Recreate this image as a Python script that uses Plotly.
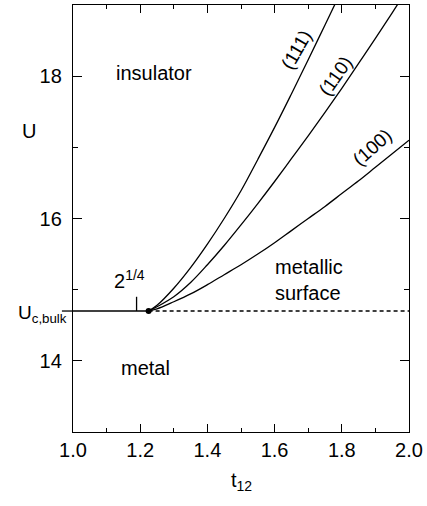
import plotly.graph_objects as go

# Bulk critical interaction and the point where the surface transition branches off
U_C_BULK = 14.7
T_SPLIT = 1.225
T_ROOT = 2 ** 0.25
T_MIN, T_MAX = 1.0, 2.0
U_MIN, U_MAX = 13.0, 19.0

# Surface critical U_c,s(t12) for the three surface orientations
t_111 = [1.225, 1.25, 1.30, 1.35, 1.40, 1.45, 1.50, 1.55, 1.60, 1.65, 1.70, 1.75, 1.80]
u_111 = [14.70, 14.78, 15.02, 15.31, 15.64, 16.00, 16.39, 16.83, 17.28, 17.75, 18.23, 18.72, 19.21]

t_110 = [1.225, 1.25, 1.30, 1.35, 1.40, 1.45, 1.50, 1.55, 1.60, 1.65, 1.70, 1.75, 1.80,
         1.85, 1.90, 1.95, 2.00]
u_110 = [14.70, 14.76, 14.90, 15.10, 15.35, 15.62, 15.91, 16.21, 16.52, 16.84, 17.16, 17.49,
         17.83, 18.18, 18.53, 18.89, 19.26]

t_100 = [1.225, 1.25, 1.30, 1.35, 1.40, 1.45, 1.50, 1.55, 1.60, 1.65, 1.70, 1.75, 1.80,
         1.85, 1.90, 1.95, 2.00]
u_100 = [14.70, 14.73, 14.83, 14.94, 15.07, 15.21, 15.35, 15.50, 15.66, 15.83, 16.00, 16.17,
         16.35, 16.53, 16.72, 16.91, 17.10]

# Curve labels: text, position, rotation
curve_labels = ["(111)", "(110)", "(100)"]
curve_label_t = [1.666, 1.780, 1.890]
curve_label_u = [18.37, 18.00, 17.00]
curve_label_angle = [-60, -55, -42]

x_ticks = [1.0, 1.2, 1.4, 1.6, 1.8, 2.0]
x_ticklabels = ["1.0", "1.2", "1.4", "1.6", "1.8", "2.0"]
y_ticks = [14, 16, 18]
y_ticklabels = ["14", "16", "18"]

FONT = "Liberation Sans, Arial, Helvetica, sans-serif"
LINE = dict(color="black", width=1.3)

fig = go.Figure()

for t, u in [(t_111, u_111), (t_110, u_110), (t_100, u_100)]:
    fig.add_trace(go.Scatter(x=t, y=u, mode="lines", line=dict(color="black", width=1.3, shape="spline"),
                             hoverinfo="skip"))

# bulk transition: solid up to the branching point, dashed beyond it
fig.add_trace(go.Scatter(x=[T_MIN, T_SPLIT], y=[U_C_BULK, U_C_BULK], mode="lines", line=LINE))
fig.add_trace(go.Scatter(x=[T_SPLIT, T_MAX], y=[U_C_BULK, U_C_BULK], mode="lines",
                         line=dict(color="black", width=1.3, dash="4px,3px")))
# small marker at t12 = 2^(1/4)
fig.add_trace(go.Scatter(x=[T_ROOT, T_ROOT], y=[U_C_BULK, U_C_BULK + 0.2], mode="lines", line=LINE))
# branching point
fig.add_trace(go.Scatter(x=[T_SPLIT], y=[U_C_BULK], mode="markers",
                         marker=dict(color="black", size=6)))

# the bulk line pokes out slightly left of the frame
fig.add_shape(type="line", xref="paper", yref="y", x0=-0.033, x1=0, y0=U_C_BULK, y1=U_C_BULK,
              line=LINE)

ann = []
for txt, t, u, a in zip(curve_labels, curve_label_t, curve_label_u, curve_label_angle):
    ann.append(dict(x=t, y=u, text=txt, textangle=a, showarrow=False, font=dict(size=19)))

ann += [
    dict(x=1.242, y=18.04, text="insulator", showarrow=False, font=dict(size=20)),
    dict(x=1.215, y=13.90, text="metal", showarrow=False, font=dict(size=20)),
    dict(x=1.596, y=15.13, text="metallic<br>surface", align="left", xanchor="left",
         showarrow=False, font=dict(size=20)),
    dict(x=1.168, y=15.14, text="2<sup>1/4</sup>", showarrow=False, font=dict(size=20)),
    dict(xref="paper", yref="y", x=0, y=U_C_BULK, xanchor="right", xshift=-4, yshift=-3,
         text="U<sub>c,bulk</sub>", showarrow=False, font=dict(size=19)),
    dict(xref="paper", yref="paper", x=-0.133, y=0.713, xshift=-8, yshift=10, text="U",
         showarrow=False, font=dict(size=20)),
    dict(xref="paper", yref="paper", x=0.5, y=-0.124, yshift=-11, text="t<sub>12</sub>",
         showarrow=False, font=dict(size=20)),
]

axis_common = dict(showline=True, linecolor="black", linewidth=1.3, mirror="ticks",
                   ticks="inside", tickcolor="black", tickwidth=1.2, showgrid=False,
                   zeroline=False, tickfont=dict(size=20))

fig.update_xaxes(range=[T_MIN, T_MAX], tickvals=x_ticks, ticktext=x_ticklabels, ticklen=8,
                 minor=dict(dtick=0.1, ticks="inside", ticklen=4, tickcolor="black", tickwidth=1.2),
                 **axis_common)
fig.update_yaxes(range=[U_MIN, U_MAX], tickvals=y_ticks, ticktext=y_ticklabels, ticklen=9,
                 ticklabelstandoff=6,
                 minor=dict(dtick=1, ticks="inside", ticklen=5, tickcolor="black", tickwidth=1.2),
                 **axis_common)

fig.update_layout(
    width=427, height=506,
    margin=dict(l=73, r=15, t=4, b=74),
    paper_bgcolor="white", plot_bgcolor="white",
    showlegend=False,
    font=dict(family=FONT, color="black", size=20),
    annotations=ann,
)

fig.write_html("out.html")
